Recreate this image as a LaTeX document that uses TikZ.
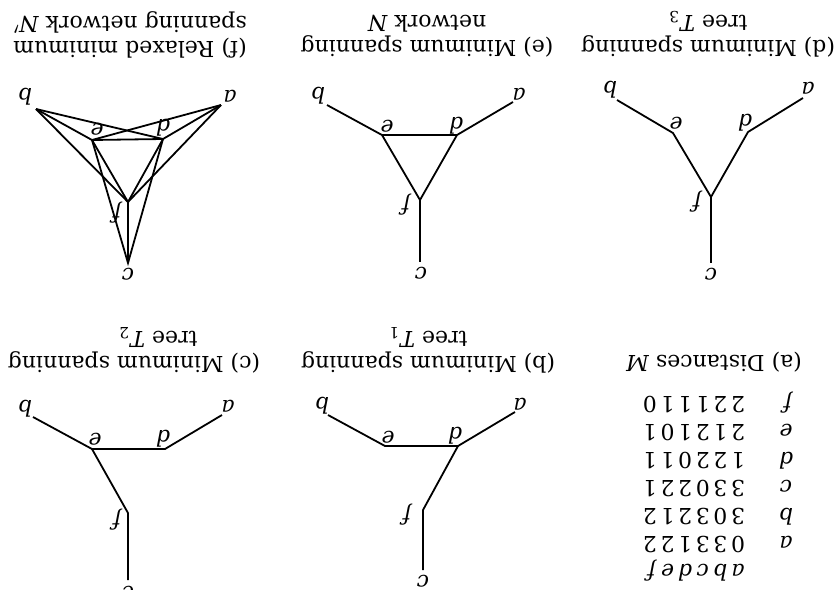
\documentclass[tikz,border=0pt]{standalone}
\usepackage{fontspec}
\setmainfont{DejaVu Serif}
\begin{document}
\begin{tikzpicture}[
    x=0.5pt, y=-0.5pt,
    line/.style={draw, line width=0.9pt},
    lab/.style={rotate=180, inner sep=0pt, font=\fontsize{11}{12}\selectfont\itshape},
    caption/.style={rotate=180, align=center, inner sep=0pt, font=\fontsize{11}{12.5}\selectfont},
    distbox/.style={rotate=180, inner sep=0pt, font=\fontsize{11}{14}\selectfont}
]
    \useasboundingbox (0,0) rectangle (837,590);

    % (a) distances
    \node [caption] (capA) at (714,362) {(a) Distances \textit{M}};
    \node [distbox] (dist) at (718,486) {\setlength{\tabcolsep}{0.9pt}%
        \begin{tabular}{c@{\hspace{17pt}}cccccc}
             & \textit{a} & \textit{b} & \textit{c} & \textit{d} & \textit{e} & \textit{f}\\
            \textit{a} & 0 & 3 & 3 & 1 & 2 & 2\\
            \textit{b} & 3 & 0 & 3 & 2 & 1 & 2\\
            \textit{c} & 3 & 3 & 0 & 2 & 2 & 1\\
            \textit{d} & 1 & 2 & 2 & 0 & 1 & 1\\
            \textit{e} & 2 & 1 & 2 & 1 & 0 & 1\\
            \textit{f} & 2 & 2 & 1 & 1 & 1 & 0
        \end{tabular}};

    % (b) tree T1
    \node [caption] (capB) at (428,350) {(b) Minimum spanning\\tree \textit{T}\textsubscript{1}};
    \coordinate (a1) at (515,412);
    \coordinate (b1) at (328,415);
    \coordinate (c1) at (423,570);
    \coordinate (d1) at (458,446);
    \coordinate (e1) at (385,446);
    \coordinate (f1) at (423,510);
    \node [lab] (la1) at (520,404) {a};
    \node [lab] (lb1) at (322,406) {b};
    \node [lab] (lc1) at (423,581) {c};
    \node [lab] (ld1) at (455,436) {d};
    \node [lab] (le1) at (388,437) {e};
    \node [lab] (lf1) at (407,515) {f};
    \draw [line] (b1) -- (e1) -- (d1) -- (a1);
    \draw [line] (d1) -- (f1) -- (c1);

    % (c) tree T2
    \node [caption] (capC) at (134,350) {(c) Minimum spanning\\tree \textit{T}\textsubscript{2}\hspace*{24pt}};
    \coordinate (a2) at (222,415);
    \coordinate (b2) at (33,417);
    \coordinate (c2) at (128,580);
    \coordinate (d2) at (165,449);
    \coordinate (e2) at (92,449);
    \coordinate (f2) at (128,513);
    \node [lab] (la2) at (228,406) {a};
    \node [lab] (lb2) at (25,409) {b};
    \node [lab] (lc2) at (128,592) {c};
    \node [lab] (ld2) at (163,439) {d};
    \node [lab] (le2) at (95,439) {e};
    \node [lab] (lf2) at (117,520) {f};
    \draw [line] (b2) -- (e2) -- (d2) -- (a2);
    \draw [line] (e2) -- (f2) -- (c2);

    % (d) tree T3
    \node [caption] (capD) at (708,34) {(d) Minimum spanning\\tree \textit{T}\textsubscript{3}};
    \coordinate (a3) at (803,98);
    \coordinate (b3) at (617,100);
    \coordinate (c3) at (711,263);
    \coordinate (d3) at (748,132);
    \coordinate (e3) at (673,133);
    \coordinate (f3) at (711,197);
    \node [lab] (la3) at (808,88) {a};
    \node [lab] (lb3) at (610,90) {b};
    \node [lab] (lc3) at (711,274) {c};
    \node [lab] (ld3) at (745,123) {d};
    \node [lab] (le3) at (676,123) {e};
    \node [lab] (lf3) at (697,202) {f};
    \draw [line] (b3) -- (e3) -- (f3) -- (d3) -- (a3);
    \draw [line] (f3) -- (c3);

    % (e) network N
    \node [caption] (capE) at (427,36) {(e) Minimum spanning\\network \textit{N}};
    \coordinate (aN) at (513,102);
    \coordinate (bN) at (327,105);
    \coordinate (cN) at (420,262);
    \coordinate (dN) at (457,135);
    \coordinate (eN) at (382,135);
    \coordinate (fN) at (420,200);
    \node [lab] (laN) at (519,94) {a};
    \node [lab] (lbN) at (318,96) {b};
    \node [lab] (lcN) at (421,273) {c};
    \node [lab] (ldN) at (456,126) {d};
    \node [lab] (leN) at (387,126) {e};
    \node [lab] (lfN) at (406,205) {f};
    \draw [line] (bN) -- (eN) -- (fN) -- (dN) -- (aN);
    \draw [line] (eN) -- (dN);
    \draw [line] (fN) -- (cN);

    % (f) relaxed network N'
    \node [caption] (capR) at (130,35) {(f) Relaxed minimum\\spanning network \textit{N}$'$};
    \coordinate (aR) at (221,105);
    \coordinate (bR) at (36,109);
    \coordinate (cR) at (128,263);
    \coordinate (dR) at (163,139);
    \coordinate (eR) at (92,140);
    \coordinate (fR) at (128,202);
    \node [lab] (laR) at (230,96) {a};
    \node [lab] (lbR) at (25,97) {b};
    \node [lab] (lcR) at (128,274) {c};
    \node [lab] (ldR) at (163,128) {d};
    \node [lab] (leR) at (97,129) {e};
    \node [lab] (lfR) at (117,213) {f};
    \draw [line] (bR) -- (eR) -- (dR) -- (aR);
    \draw [line] (bR) -- (dR);
    \draw [line] (aR) -- (eR);
    \draw [line] (bR) -- (fR) -- (aR);
    \draw [line] (eR) -- (fR) -- (dR);
    \draw [line] (eR) -- (cR) -- (dR);
    \draw [line] (fR) -- (cR);
\end{tikzpicture}
\end{document}
